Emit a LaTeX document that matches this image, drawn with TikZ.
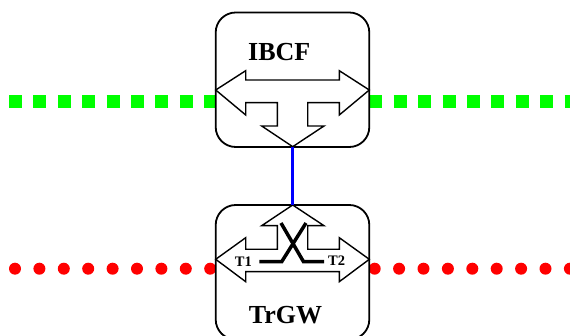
\documentclass[tikz,border=0pt]{standalone}
\usepackage{fontspec}
\setmainfont{Liberation Serif}
\begin{document}
\begin{tikzpicture}[x=1pt,y=-1pt,
  box/.style={draw=black,line width=1.8pt,fill=white,rounded corners=20pt},
  arrowshape/.style={draw=black,line width=1.4pt,fill=white,line join=miter},
  greenline/.style={draw={rgb,255:red,0;green,255;blue,0},line width=12.7pt,dash pattern=on 13pt off 11.4pt},
  redline/.style={draw={rgb,255:red,255;green,0;blue,0},line width=12pt,line cap=round,dash pattern=on 0pt off 24.4pt},
  link/.style={draw={rgb,255:red,0;green,0;blue,255},line width=3.5pt},
  xline/.style={draw=black,line width=3.5pt},
  biglabel/.style={font=\bfseries\fontsize{26}{30}\selectfont,inner sep=0pt},
  smalllabel/.style={font=\bfseries\fontsize{14.5}{17}\selectfont,inner sep=0pt}]
\useasboundingbox (0,0) rectangle (570,336);
% signalling lines
\coordinate (gL0) at (9,101.3);
\coordinate (gL1) at (215.7,101.3);
\coordinate (gR0) at (369.3,101.3);
\coordinate (gR1) at (575,101.3);
\coordinate (rL0) at (15,268.7);
\coordinate (rL1) at (212,268.7);
\coordinate (rR0) at (374.7,268.7);
\coordinate (rR1) at (575,268.7);
\draw[greenline] (gL0) -- (gL1);
\draw[greenline] (gR0) -- (gR1);
\draw[redline] (rL0) -- (rL1);
\draw[redline] (rR0) -- (rR1);
% boxes
\draw[box] (215.7,12.5) rectangle (369.3,147);
\draw[box] (215.7,205) rectangle (369.3,339.5);
% IBCF arrow
\draw[arrowshape] (215.7,90) -- (245.7,70.7) -- (245.7,80) -- (339.3,80) -- (339.3,70.7)
  -- (369.3,90) -- (339.3,115) -- (339.3,102.7) -- (307.7,102.7) -- (307.7,126)
  -- (324,126) -- (292.7,146.7) -- (261.7,126) -- (277.3,126) -- (277.3,102.7)
  -- (245.7,102.7) -- (245.7,115) -- cycle;
% TrGW arrow
\draw[arrowshape] (292.7,205) -- (324,225.7) -- (307.7,225.7) -- (307.7,249.3)
  -- (339.3,249.3) -- (339.3,237.7) -- (369.3,259.3) -- (339.3,281.7) -- (339.3,271.7)
  -- (245.7,271.7) -- (245.7,281.7) -- (215.7,259.3) -- (245.7,237.7) -- (245.7,249.3)
  -- (277.3,249.3) -- (277.3,225.7) -- (261.7,225.7) -- cycle;
% link
\coordinate (ibcfport) at (292.7,146.7);
\coordinate (trgwport) at (292.7,205);
\draw[link] (ibcfport) -- (trgwport);
% switch X
\draw[xline] (259.3,261.7) -- (281.7,261.7) -- (306,223);
\draw[xline] (281,223) -- (303.5,261.7) -- (324,261.7);
% labels
\node[biglabel] (ibcf) at (279.3,51.7) {IBCF};
\node[biglabel] (trgw) at (285.5,315) {TrGW};
\node[smalllabel] (t1) at (243.3,262) {T1};
\node[smalllabel] (t2) at (336.7,261) {T2};
\end{tikzpicture}
\end{document}
